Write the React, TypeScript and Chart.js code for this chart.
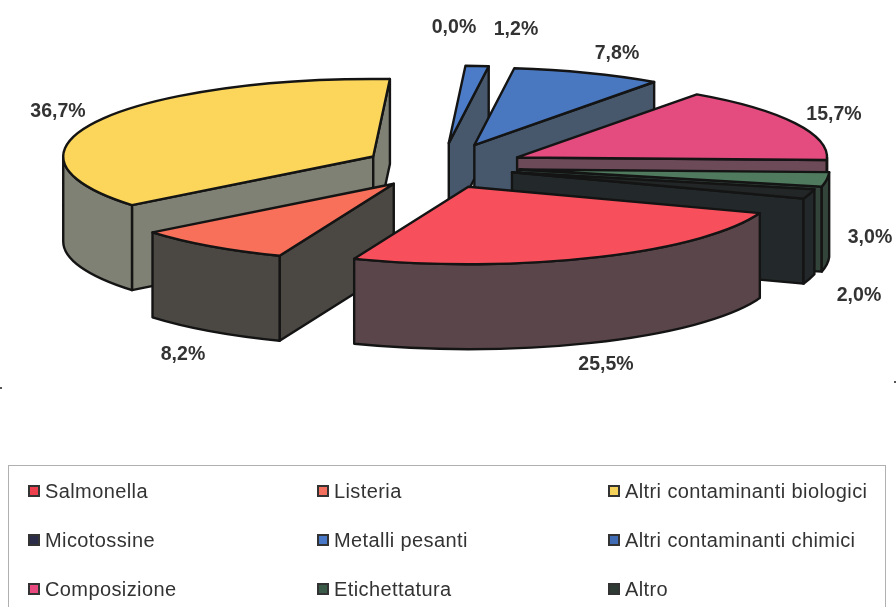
import React, { useEffect, useRef } from "react";
import { Chart, registerables } from "chart.js";

Chart.register(...registerables);

const categories = [
  "Salmonella", "Listeria", "Altri contaminanti biologici",
  "Micotossine", "Metalli pesanti", "Altri contaminanti chimici",
  "Composizione", "Etichettatura", "Altro",
];
const shares = [25.5, 8.2, 36.7, 0.0, 1.2, 7.8, 15.7, 3.0, 2.0];

const topColors = ["#f7505c", "#f8705a", "#fbd65a", "#2b3050", "#4c7cc8", "#4a78c0", "#e44c80", "#4f7a5e", "#232626"];
const wallColors = ["#5a464a", "#4b4843", "#7f8174", "#2b3050", "#47586c", "#47586c", "#6c4a58", "#33443b", "#23292a"];
const swatchColors = ["#ee3f4c", "#f4705e", "#f5d25a", "#2b2d48", "#4a78c8", "#3f6cb4", "#e8497f", "#3a5a48", "#2e3a34"];
const explode = [69, 78, 75, 0, 96, 94, 86, 80, 75];
const sag = [4, 1, -2, 0, 0, 0, 0, 0, 0];
const paintOrder = [4, 5, 2, 6, 7, 8, 1, 0];
const labelX = [606, 183, 58, 454, 516, 617, 834, 870, 859];
const labelY = [365, 355, 112, 28, 30, 54, 115, 238, 296];

const TILT = 0.25;
const DEPTH = 85;
const TAU = Math.PI * 2;
const EDGE = "#141414";

const pie3d = {
  id: "pie3d",
  beforeDatasetsDraw(chart: any) {
    const ctx = chart.ctx;
    const arcs = chart.getDatasetMeta(0).data;
    for (const i of paintOrder) {
      const arc = arcs[i];
      const R = arc.outerRadius;
      const start = ((arc.startAngle % TAU) + TAU) % TAU;
      const end = start + (arc.endAngle - arc.startAngle);
      const mid = (start + end) / 2;
      const cx = arc.x + Math.cos(mid) * explode[i];
      const cy = arc.y + Math.sin(mid) * explode[i] * TILT + sag[i];
      const px = (a: number) => cx + R * Math.cos(a);
      const py = (a: number) => cy + R * TILT * Math.sin(a);

      ctx.save();
      ctx.lineWidth = 2.4;
      ctx.lineJoin = "round";
      ctx.strokeStyle = EDGE;
      ctx.fillStyle = wallColors[i];

      const face = (a: number) => {
        ctx.beginPath();
        ctx.moveTo(cx, cy);
        ctx.lineTo(px(a), py(a));
        ctx.lineTo(px(a), py(a) + DEPTH);
        ctx.lineTo(cx, cy + DEPTH);
        ctx.closePath();
        ctx.fill();
        ctx.stroke();
      };
      if (Math.sin(start - Math.PI / 2) > 0) face(start);
      if (Math.sin(end + Math.PI / 2) > 0) face(end);

      for (const base of [0, TAU]) {
        const a0 = Math.max(start, base);
        const a1 = Math.min(end, base + Math.PI);
        if (a1 <= a0) continue;
        ctx.beginPath();
        ctx.ellipse(cx, cy, R, R * TILT, 0, a0, a1);
        ctx.ellipse(cx, cy + DEPTH, R, R * TILT, 0, a1, a0, true);
        ctx.closePath();
        ctx.fill();
        ctx.stroke();
      }

      ctx.save();
      ctx.translate(cx, cy);
      ctx.scale(1, TILT);
      ctx.translate(-arc.x, -arc.y);
      arc.draw(ctx);
      ctx.restore();

      ctx.beginPath();
      ctx.moveTo(cx, cy);
      ctx.ellipse(cx, cy, R, R * TILT, 0, start, end);
      ctx.closePath();
      ctx.stroke();
      ctx.restore();
    }

    ctx.save();
    ctx.fillStyle = "#333333";
    ctx.font = "bold 19.5px 'Liberation Sans'";
    ctx.textAlign = "center";
    ctx.textBaseline = "middle";
    shares.forEach((v, i) => {
      ctx.fillText(v.toFixed(1).replace(".", ",") + "%", labelX[i], labelY[i]);
    });
    ctx.restore();
    return false;
  },
};

export default function App() {
  const ref = useRef<HTMLCanvasElement | null>(null);
  useEffect(() => {
    const chart = new Chart(ref.current as HTMLCanvasElement, {
      type: "pie",
      data: {
        labels: categories,
        datasets: [{
          data: shares,
          backgroundColor: topColors,
          borderWidth: 0,
          radius: 310,
        } as any],
      },
      options: {
        responsive: false,
        animation: false,
        rotation: 109.9,
        layout: { padding: { left: 0, right: 16, top: 0, bottom: 273 } },
        plugins: { legend: { display: false }, tooltip: { enabled: false } },
      },
      plugins: [pie3d],
    } as any);
    return () => chart.destroy();
  }, []);

  const colX = [28, 317, 608];
  const rowY = [491, 540, 589];
  return (
    <div style={{ position: "fixed", left: 0, top: 0, width: 896, height: 607, overflow: "hidden", background: "#fff", filter: "blur(0.7px)" }}>
      <canvas ref={ref} width={896} height={607} style={{ position: "absolute", left: 0, top: 0 }} />
      <div style={{ position: "absolute", left: 8, top: 465, width: 878, height: 160, border: "1.5px solid #b0b0b0", boxSizing: "border-box" }} />
      <div style={{ position: "absolute", left: 0, top: 387, width: 2, height: 2, background: "#555" }} />
      <div style={{ position: "absolute", left: 894, top: 381, width: 2, height: 2, background: "#555" }} />
      {categories.map((c, i) => (
        <div key={c} style={{ position: "absolute", left: colX[i % 3], top: rowY[Math.floor(i / 3)] - 12, height: 24, display: "flex", alignItems: "center", fontFamily: "'Liberation Sans'", fontSize: 20, letterSpacing: 0.4, color: "#333", whiteSpace: "nowrap" }}>
          <span style={{ display: "inline-block", width: 12, height: 12, boxSizing: "border-box", marginRight: 5, background: swatchColors[i], border: "2px solid #333" }} />
          {c}
        </div>
      ))}
    </div>
  );
}
